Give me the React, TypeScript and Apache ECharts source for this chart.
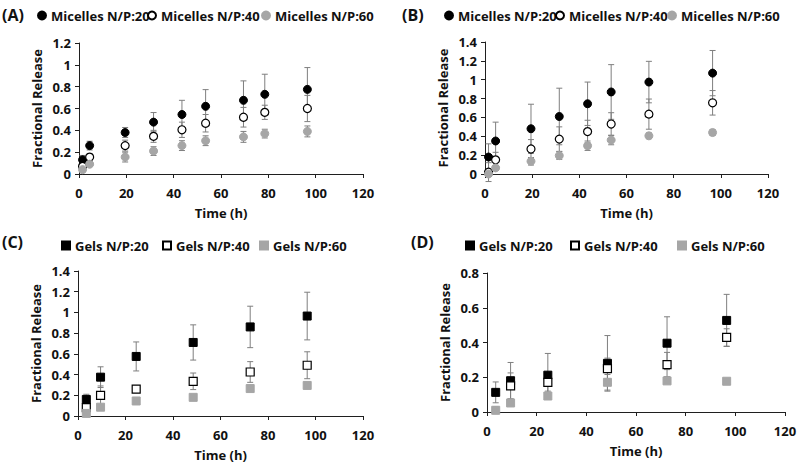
import React, { useEffect, useRef } from "react";
import * as echarts from "echarts";

// ---- Data ----
const timesA = [1.5, 4.5, 19.5, 31.5, 43.5, 53.5, 69.5, 78.5, 96.5];
const micA20 = [0.13, 0.26, 0.38, 0.475, 0.545, 0.62, 0.675, 0.73, 0.775];
const micA20Err = [0.04, 0.04, 0.046, 0.088, 0.13, 0.153, 0.178, 0.184, 0.2];
const micA40 = [0.07, 0.155, 0.26, 0.345, 0.405, 0.465, 0.52, 0.565, 0.6];
const micA40Err = [0.03, 0.03, 0.05, 0.055, 0.07, 0.08, 0.09, 0.065, 0.12];
const micA60 = [0.04, 0.09, 0.155, 0.21, 0.26, 0.305, 0.34, 0.37, 0.39];
const micA60Err = [0.02, 0.02, 0.045, 0.04, 0.045, 0.045, 0.05, 0.04, 0.05];

const timesB = [1.5, 4.5, 19.5, 31.5, 43.5, 53.5, 69.5, 96.5];
const micB20 = [0.18, 0.35, 0.48, 0.61, 0.745, 0.87, 0.975, 1.07];
const micB20Err = [0.14, 0.2, 0.26, 0.3, 0.23, 0.29, 0.22, 0.24];
const micB40 = [0.02, 0.15, 0.265, 0.37, 0.45, 0.53, 0.635, 0.755];
const micB40Err = [0.1, 0.08, 0.1, 0.13, 0.12, 0.12, 0.16, 0.13];
const micB60 = [0.0, 0.065, 0.135, 0.195, 0.3, 0.36, 0.405, 0.44];
const micB60Err = [0.02, 0.02, 0.04, 0.04, 0.05, 0.05, 0.03, 0.03];

const timesCD = [3.5, 9.5, 24.5, 48.5, 72.5, 96.5];
const gelC20 = [0.16, 0.375, 0.575, 0.71, 0.86, 0.965];
const gelC20Err = [0.05, 0.1, 0.14, 0.17, 0.2, 0.23];
const gelC40 = [0.08, 0.2, 0.26, 0.335, 0.425, 0.49];
const gelC40Err = [0.03, 0.09, 0.02, 0.08, 0.1, 0.13];
const gelC60 = [0.025, 0.085, 0.145, 0.18, 0.265, 0.295];
const gelC60Err = [0.02, 0.02, 0.01, 0.01, 0.02, 0.02];

const gelD20 = [0.113, 0.18, 0.212, 0.28, 0.396, 0.527];
const gelD20Err = [0.06, 0.105, 0.125, 0.16, 0.152, 0.15];
const gelD40 = [null, 0.15, 0.17, 0.25, 0.273, 0.429];
const gelD40Err = [0, 0.075, 0.05, 0.06, 0.07, 0.05];
const gelD60 = [0.01, 0.052, 0.092, 0.171, 0.179, 0.177];
const gelD60Err = [0.02, 0.01, 0.01, 0.045, 0.01, 0.01];

const xTicks = [0, 20, 40, 60, 80, 100, 120];
const yMaxA = 1.2;
const yMaxB = 1.4;
const yMaxC = 1.4;
const yMaxD = 0.8;

const micNames = ["Micelles N/P:20", "Micelles N/P:40", "Micelles N/P:60"];
const gelNames = ["Gels N/P:20", "Gels N/P:40", "Gels N/P:60"];

// ---- Styles ----
const FONT = "'Open Sans', 'DejaVu Sans', sans-serif";
const TXT = "#111111";
const GREY = "#a6a6a6";
const ERR = "#7f7f7f";

const markerStyles = [
  { color: "#000000", borderColor: "#000000", borderWidth: 1, opacity: 1 },
  { color: "#ffffff", borderColor: "#000000", borderWidth: 1.2, opacity: 1 },
  { color: GREY, borderColor: GREY, borderWidth: 1, opacity: 1 },
];

function pts(t: number[], v: (number | null)[]) {
  const out: number[][] = [];
  t.forEach((x, i) => {
    if (v[i] !== null && v[i] !== undefined) out.push([x, v[i] as number]);
  });
  return out;
}
function errPts(t: number[], v: (number | null)[], e: number[]) {
  const out: number[][] = [];
  t.forEach((x, i) => {
    if (v[i] !== null && v[i] !== undefined) out.push([x, v[i] as number, e[i]]);
  });
  return out;
}

const errRender = (params: any, api: any) => {
  const x = api.value(0);
  const y = api.value(1);
  const e = api.value(2);
  if (!e) return null;
  const top = api.coord([x, y + e]);
  const bot = api.coord([x, y - e]);
  const cap = 3;
  const st = { stroke: ERR, lineWidth: 1 };
  return {
    type: "group",
    children: [
      { type: "line", shape: { x1: top[0], y1: top[1], x2: bot[0], y2: bot[1] }, style: st },
      { type: "line", shape: { x1: top[0] - cap, y1: top[1], x2: top[0] + cap, y2: top[1] }, style: st },
      { type: "line", shape: { x1: bot[0] - cap, y1: bot[1], x2: bot[0] + cap, y2: bot[1] }, style: st },
    ],
  };
};

export default function App() {
  const ref = useRef<HTMLDivElement>(null);
  useEffect(() => {
    if (!ref.current) return;
    const chart = echarts.init(ref.current, null, { renderer: "svg" });

    const grids = [
      { left: 79, top: 43, width: 284, height: 131 },
      { left: 485, top: 42, width: 283, height: 132 },
      { left: 78, top: 271, width: 285, height: 145 },
      { left: 487, top: 273, width: 298, height: 139 },
    ];
    const yMaxes = [yMaxA, yMaxB, yMaxC, yMaxD];

    const axisCommon = {
      axisLine: { show: true, lineStyle: { color: "#1f1f1f", width: 1 } },
      axisTick: { show: true, length: 4, lineStyle: { color: "#1f1f1f" } },
      splitLine: { show: false },
    };
    const labelStyle = { color: TXT, fontFamily: FONT, fontWeight: "bold", fontSize: 13 };

    const xAxes = grids.map((g, i) => ({
      type: "value",
      gridIndex: i,
      min: xTicks[0],
      max: xTicks[xTicks.length - 1],
      interval: 20,
      ...axisCommon,
      axisLabel: { ...labelStyle, margin: 12 },
      name: "Time (h)",
      nameLocation: "middle",
      nameGap: 32,
      nameTextStyle: { ...labelStyle },
    }));
    const yAxes = grids.map((g, i) => ({
      type: "value",
      gridIndex: i,
      min: 0,
      max: yMaxes[i],
      interval: 0.2,
      ...axisCommon,
      axisLabel: {
        ...labelStyle,
        margin: 8,
        formatter: (v: number) => String(+v.toFixed(1)),
      },
      name: "Fractional Release",
      nameLocation: "middle",
      nameGap: 36,
      nameTextStyle: { ...labelStyle },
    }));

    const panels = [
      { t: timesA, vals: [micA20, micA40, micA60], errs: [micA20Err, micA40Err, micA60Err], names: micNames, sym: "circle" },
      { t: timesB, vals: [micB20, micB40, micB60], errs: [micB20Err, micB40Err, micB60Err], names: micNames, sym: "circle" },
      { t: timesCD, vals: [gelC20, gelC40, gelC60], errs: [gelC20Err, gelC40Err, gelC60Err], names: gelNames, sym: "rect" },
      { t: timesCD, vals: [gelD20, gelD40, gelD60], errs: [gelD20Err, gelD40Err, gelD60Err], names: gelNames, sym: "rect" },
    ];

    const series: any[] = [];
    panels.forEach((p, gi) => {
      p.vals.forEach((v, k) => {
        series.push({
          type: "custom",
          xAxisIndex: gi,
          yAxisIndex: gi,
          renderItem: errRender,
          data: errPts(p.t, v as any, p.errs[k]),
          encode: { x: 0, y: 1 },
          silent: true,
          clip: false,
        });
        series.push({
          type: "scatter",
          name: p.names[k],
          xAxisIndex: gi,
          yAxisIndex: gi,
          symbol: p.sym,
          symbolSize: 8,
          itemStyle: markerStyles[k],
          data: pts(p.t, v as any),
          clip: false,
        });
      });
    });

    const legendText = { color: TXT, fontFamily: FONT, fontWeight: "bold", fontSize: 13 };
    const legendPos = [
      { lefts: [37, 147, 261], top: 9, sym: "circle", names: micNames },
      { lefts: [444, 555, 667], top: 9, sym: "circle", names: micNames },
      { lefts: [61, 162, 259], top: 239, sym: "rect", names: gelNames },
      { lefts: [465, 570, 677], top: 239, sym: "rect", names: gelNames },
    ];
    const legends: any[] = [];
    legendPos.forEach((lp) => {
      lp.lefts.forEach((l, k) => {
        legends.push({
          left: l,
          top: lp.top,
          data: [{ name: lp.names[k], icon: lp.sym === "circle" ? "circle" : "rect" }],
          itemWidth: 8,
          itemHeight: 8,
          textStyle: legendText,
          selectedMode: false,
          padding: 0,
        });
      });
    });

    const panelLabel = (text: string, x: number, y: number) => ({
      type: "text",
      left: x,
      top: y,
      style: { text, fill: TXT, font: `bold 16px ${FONT}` },
    });

    chart.setOption({
      animation: false,
      backgroundColor: "#ffffff",
      grid: grids,
      xAxis: xAxes,
      yAxis: yAxes,
      legend: legends,
      series,
      graphic: [
        panelLabel("(A)", 2, 7),
        panelLabel("(B)", 402, 7),
        panelLabel("(C)", 2, 234),
        panelLabel("(D)", 411, 234),
      ],
    });
    return () => chart.dispose();
  }, []);
  return (
    <div
      ref={ref}
      style={{ position: "fixed", left: 0, top: 0, width: 800, height: 465 }}
    />
  );
}
